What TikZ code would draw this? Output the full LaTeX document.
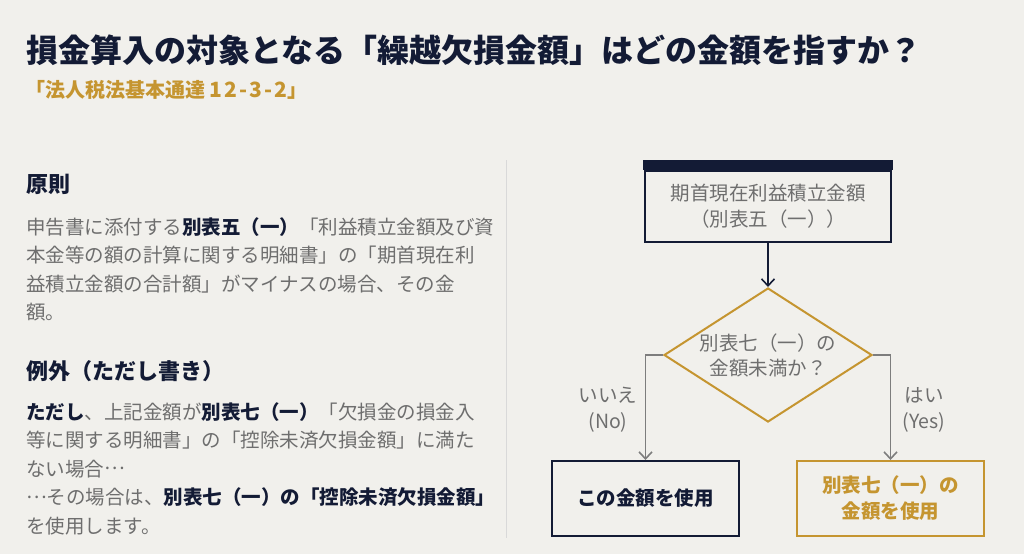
\documentclass[tikz,border=0pt]{standalone}
\usepackage{fontspec}
\setmainfont{Noto Sans CJK JP}
\usetikzlibrary{shapes,arrows.meta,positioning,calc}
\definecolor{navy}{HTML}{131B35}
\definecolor{gold}{HTML}{C59530}
\definecolor{bodygray}{HTML}{6E6E6E}
\definecolor{linegray}{HTML}{7D7D7D}
\definecolor{paper}{HTML}{F1F0EC}
\newcommand\keyterm[1]{\textbf{\color{navy}#1}}
\newcommand\midellipsis{\raisebox{0.32em}{…}}
\tikzset{
  heading/.style={anchor=base west, inner sep=0pt, text=navy,
    font=\fontsize{22}{26}\selectfont\bfseries},
  bodytext/.style={anchor=north west, inner sep=0pt, align=left, text=bodygray,
    font=\fontsize{19.5}{28.5}\selectfont},
}
\begin{document}
\begin{tikzpicture}[x=1pt,y=-1pt,
    flowbox/.style={draw, rectangle, line width=2pt, inner sep=0pt,
      minimum width=187pt, minimum height=75pt, align=center,
      font=\fontsize{19.5}{26}\selectfont\bfseries},
    decision/.style={draw=gold, diamond, line width=2pt, inner sep=0pt,
      aspect=1.55, minimum width=208pt, minimum height=134pt, align=center,
      text=bodygray, font=\fontsize{19.5}{25}\selectfont},
    branch/.style={text=bodygray, align=center, font=\fontsize{19.5}{26}\selectfont},
    flow/.style={line width=1.6pt, -{Straight Barb[length=7pt,width=13pt,line width=1.6pt]}}
  ]

  % page
  \fill[paper] (0,0) rectangle (1024,554);
  \useasboundingbox (0,0) rectangle (1024,554);

  % title
  \node[anchor=base west, inner sep=0pt, text=navy, font=\fontsize{32}{36}\selectfont\bfseries]
    (title) at (26,62) {損金算入の対象となる「繰越欠損金額」はどの金額を指すか？};
  \node[anchor=base west, inner sep=0pt, text=gold, font=\fontsize{20}{24}\selectfont\bfseries]
    (source) at (25,97) {「法人税法基本通達 {\fontsize{21}{24}\selectfont\addfontfeature{LetterSpace=10}12-3-2}」};

  % left column
  \node[heading] (rule) at (26,192) {原則};
  \node[bodytext] (ruletext) at (26,217) {%
    申告書に添付する\keyterm{別表五（一）}「利益積立金額及び資\\
    本金等の額の計算に関する明細書」の「期首現在利\\
    益積立金額の合計額」がマイナスの場合、その金\\
    額。};

  \node[heading] (exception) at (26,379) {例外（ただし書き）};
  \node[bodytext] (exceptiontext) at (26,402) {%
    \keyterm{ただし}、上記金額が\keyterm{別表七（一）}「欠損金の損金入\\
    等に関する明細書」の「控除未済欠損金額」に満た\\
    ない場合\midellipsis\\
    \midellipsis その場合は、\keyterm{別表七（一）の「控除未済欠損金額」}\\
    を使用します。};

  \draw[line width=1pt, black!15] (506,160) -- (506,538);

  % flowchart
  \node[flowbox, draw=navy, text=bodygray, font=\fontsize{19.5}{26}\selectfont,
    minimum width=246pt, minimum height=71pt] (start) at (768,206.5)
    {期首現在利益積立金額\\（別表五（一））};
  \fill[navy] ([xshift=-1pt]start.north west) rectangle ([xshift=1pt,yshift=10pt]start.north east);

  \node[decision] (check) at (768,355) {別表七（一）の\\金額未満か？};

  \node[flowbox, draw=navy, text=navy] (useit) at (645.5,498.5) {この金額を使用};
  \node[flowbox, draw=gold, text=gold] (useseven) at (890.5,498.5) {別表七（一）の\\金額を使用};

  \draw[flow, navy] (start.south) -- (check.north);
  \draw[flow, linegray] (check.west) -| (useit.north);
  \draw[flow, linegray] (check.east) -| (useseven.north);

  \node[branch] (nolabel) at (608,410) {いいえ\\(No)};
  \node[branch] (yeslabel) at (924,410) {はい\\(Yes)};

\end{tikzpicture}
\end{document}
